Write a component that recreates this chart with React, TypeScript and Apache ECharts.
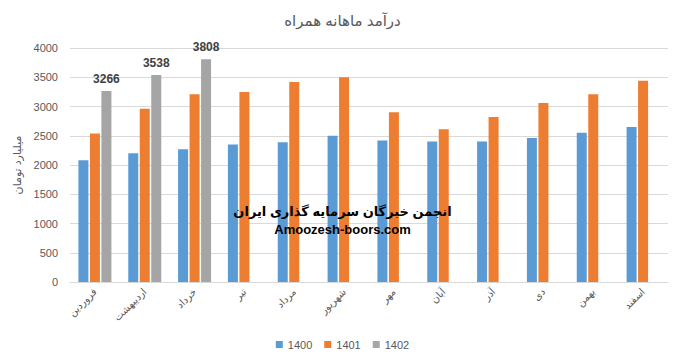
import React, { useEffect, useRef } from "react";
import * as echarts from "echarts";

const months = ["فروردین", "اردیبهشت", "خرداد", "تیر", "مرداد", "شهریور", "مهر", "آبان", "آذر", "دی", "بهمن", "اسفند"];
const s1400 = [2080, 2200, 2270, 2350, 2390, 2500, 2420, 2400, 2400, 2460, 2550, 2650];
const s1401 = [2540, 2960, 3210, 3250, 3420, 3500, 2900, 2610, 2820, 3060, 3210, 3440];
const s1402: (number | null)[] = [3266, 3538, 3808, null, null, null, null, null, null, null, null, null];
const seriesNames = ["1400", "1401", "1402"];
const colors = ["#5b9bd5", "#ed7d31", "#a5a5a5"];

const FONT = "'Liberation Sans', 'DejaVu Sans', sans-serif";

export default function App() {
  const ref = useRef<HTMLDivElement>(null);
  useEffect(() => {
    document.body.style.margin = "0";
    const chart = echarts.init(ref.current!, null, { renderer: "svg" });
    chart.setOption({
      animation: false,
      backgroundColor: "#ffffff",
      textStyle: { fontFamily: FONT },
      title: {
        text: "درآمد ماهانه همراه",
        left: "center",
        top: 8,
        textStyle: { fontSize: 15, fontWeight: "normal", color: "#595959", fontFamily: FONT },
      },
      legend: {
        bottom: 6,
        left: "center",
        icon: "rect",
        itemWidth: 7,
        itemHeight: 7,
        itemGap: 12,
        textStyle: { fontSize: 11, color: "#595959", fontFamily: FONT },
        data: seriesNames,
      },
      grid: { left: 70, right: 17, top: 48, bottom: 79 },
      xAxis: {
        type: "category",
        data: months,
        axisLine: { lineStyle: { color: "#d9d9d9" } },
        axisTick: { show: false },
        axisLabel: { rotate: 45, fontSize: 10, color: "#595959", margin: 8, interval: 0 },
      },
      yAxis: {
        type: "value",
        min: 0,
        max: 4000,
        interval: 500,
        name: "میلیارد تومان",
        nameLocation: "middle",
        nameRotate: 90,
        nameGap: 48,
        nameTextStyle: { fontSize: 11, color: "#595959" },
        axisLine: { show: false },
        axisTick: { show: false },
        axisLabel: { fontSize: 11, color: "#595959", margin: 12, formatter: (v: number) => String(v) },
        splitLine: { lineStyle: { color: "#d9d9d9" } },
      },
      graphic: [
        {
          type: "text",
          left: "center",
          top: 205,
          z: 100,
          zlevel: 1,
          style: { text: "انجمن خبرگان سرمایه گذاری ایران", fontSize: 13, fontWeight: "bold", fill: "#000", fontFamily: FONT },
        },
        {
          type: "text",
          left: "center",
          top: 223,
          z: 100,
          zlevel: 1,
          style: { text: "Amoozesh-boors.com", fontSize: 13, fontWeight: "bold", fill: "#000", fontFamily: FONT },
        },
      ],
      series: [
        { name: seriesNames[0], type: "bar", data: s1400, barWidth: 10, barGap: "15%", itemStyle: { color: colors[0] }, z: 1 },
        { name: seriesNames[1], type: "bar", data: s1401, barWidth: 10, barGap: "15%", itemStyle: { color: colors[1] }, z: 1 },
        {
          name: seriesNames[2],
          type: "bar",
          data: s1402,
          barWidth: 10,
          barGap: "15%",
          itemStyle: { color: colors[2] },
          z: 1,
          label: { show: true, position: "top", fontSize: 12, fontWeight: "bold", color: "#404040", distance: 6 },
        },
      ],
    });
    return () => chart.dispose();
  }, []);
  return <div ref={ref} style={{ width: 685, height: 361 }} />;
}
